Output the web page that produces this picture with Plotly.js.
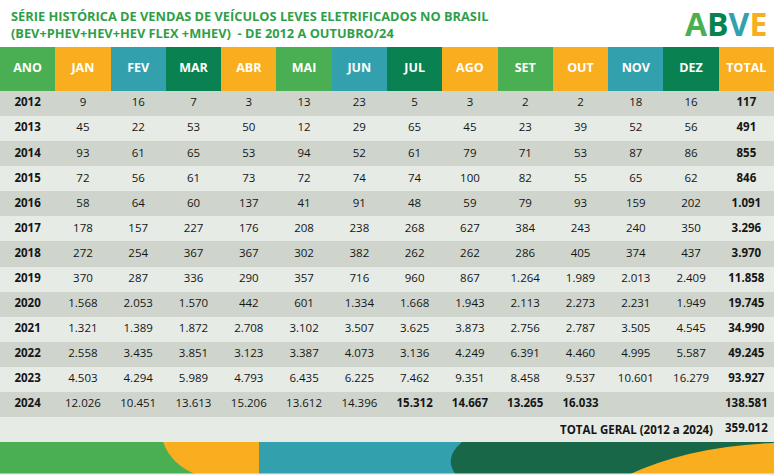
<!DOCTYPE html>
<html>
<head>
<meta charset="utf-8">
<script src="https://cdn.plot.ly/plotly-3.0.1.min.js"></script>
<style>html,body{margin:0;padding:0;background:#fff;}#chart{width:774px;height:475px;}</style>
</head>
<body>
<div id="chart"></div>
<script>
// ---- data ----
const years = [2012,2013,2014,2015,2016,2017,2018,2019,2020,2021,2022,2023,2024];
const monthLabels = ['JAN','FEV','MAR','ABR','MAI','JUN','JUL','AGO','SET','OUT','NOV','DEZ'];
const jan = [9,45,93,72,58,178,272,370,1568,1321,2558,4503,12026];
const fev = [16,22,61,56,64,157,254,287,2053,1389,3435,4294,10451];
const mar = [7,53,65,61,60,227,367,336,1570,1872,3851,5989,13613];
const abr = [3,50,53,73,137,176,367,290,442,2708,3123,4793,15206];
const mai = [13,12,94,72,41,208,302,357,601,3102,3387,6435,13612];
const jun = [23,29,52,74,91,238,382,716,1334,3507,4073,6225,14396];
const jul = [5,65,61,74,48,268,262,960,1668,3625,3136,7462,15312];
const ago = [3,45,79,100,59,627,262,867,1943,3873,4249,9351,14667];
const set = [2,23,71,82,79,384,286,1264,2113,2756,6391,8458,13265];
const out = [2,39,53,55,93,243,405,1989,2273,2787,4460,9537,16033];
const nov = [18,52,87,65,159,240,374,2013,2231,3505,4995,10601,null];
const dez = [16,56,86,62,202,350,437,2409,1949,4545,5587,16279,null];
const totals = [117,491,855,846,1091,3296,3970,11858,19745,34990,49245,93927,138581];
const totalGeral = 359012;
const totalGeralLabel = 'TOTAL GERAL (2012 a 2024)';
const boldCells2024 = ['JUL','AGO','SET','OUT'];

// ---- helpers ----
const W = 774, H = 475;
function fmt(v){ if(v===null||v===undefined) return ''; return String(v).replace(/\B(?=(\d{3})+(?!\d))/g,'.'); }
const px = x => x / W;
const py = y => 1 - y / H;

const GREEN = '#4aae52', ORANGE = '#f9ae1f', TEAL = '#33a1ad', DGREEN = '#0a8150';
const ROW_DARK = '#cfd5cd', ROW_LIGHT = '#e6ebe6';
const FONT = 'Open Sans, sans-serif';

const colLabels = ['ANO'].concat(monthLabels).concat(['TOTAL']);
const headerColorIdx = [0,1,2,3,1,0,2,3,1,0,1,2,3,1]; // 0 green,1 orange,2 teal,3 dark green
const rowLabels = years.map(String).concat(['GERAL']);
const monthSeries = [jan,fev,mar,abr,mai,jun,jul,ago,set,out,nov,dez];

// header cells
const headerHeat = {
  type:'heatmap', x: colLabels, y: ['HDR'], z: [headerColorIdx],
  colorscale: [[0,GREEN],[1/3,ORANGE],[2/3,TEAL],[1,DGREEN]], zmin:0, zmax:3,
  showscale:false, hoverinfo:'skip', xaxis:'x', yaxis:'y2'
};
const headerText = {
  type:'scatter', mode:'text', x: colLabels, y: colLabels.map(() => 'HDR'),
  text: colLabels.map(s => '<b>' + s + '</b>'), textposition:'middle center',
  textfont:{family:FONT, size:12.5, color:'#ffffff'}, hoverinfo:'skip', xaxis:'x', yaxis:'y2'
};

// body cells
const bodyHeat = {
  type:'heatmap', x: colLabels, y: rowLabels,
  z: rowLabels.map((r,i) => colLabels.map(() => i % 2)),
  colorscale: [[0,ROW_DARK],[1,ROW_LIGHT]], zmin:0, zmax:1,
  showscale:false, hoverinfo:'skip', xaxis:'x', yaxis:'y'
};

const tx = [], ty = [], tt = [];
years.forEach((yr, ri) => {
  const rl = rowLabels[ri];
  tx.push('ANO'); ty.push(rl); tt.push('<b>' + yr + '</b>');
  monthSeries.forEach((arr, mi) => {
    const s = fmt(arr[ri]);
    if (!s) return;
    const bold = yr === 2024 && boldCells2024.includes(monthLabels[mi]);
    tx.push(monthLabels[mi]); ty.push(rl); tt.push(bold ? '<b>' + s + '</b>' : s);
  });
  tx.push('TOTAL'); ty.push(rl); tt.push('<b>' + fmt(totals[ri]) + '</b>');
});
tx.push('TOTAL'); ty.push('GERAL'); tt.push('<b>' + fmt(totalGeral) + '</b>');

const bodyText = {
  type:'scatter', mode:'text', x: tx, y: ty, text: tt, textposition:'middle center',
  textfont:{family:FONT, size:11.5, color:'#151515'}, hoverinfo:'skip', xaxis:'x', yaxis:'y'
};

// decorative bottom band
const shapes = [
  {type:'rect', xref:'paper', yref:'paper', x0:0, x1:px(262), y0:py(475), y1:py(442), fillcolor:GREEN, line:{width:0}, layer:'above'},
  {type:'path', xref:'paper', yref:'paper', layer:'above', line:{width:0}, fillcolor:ORANGE,
   path:`M ${px(163)} ${py(442)} Q ${px(172)} ${py(466)} ${px(198)} ${py(475)} L ${px(260)} ${py(475)} L ${px(260)} ${py(442)} Z`},
  {type:'rect', xref:'paper', yref:'paper', x0:px(259), x1:px(774), y0:py(475), y1:py(442), fillcolor:TEAL, line:{width:0}, layer:'above'},
  {type:'path', xref:'paper', yref:'paper', layer:'above', line:{width:0}, fillcolor:'#186748',
   path:`M ${px(462)} ${py(442)} Q ${px(443)} ${py(458)} ${px(456)} ${py(475)} L ${px(774)} ${py(475)} L ${px(774)} ${py(442)} Z`},
  {type:'path', xref:'paper', yref:'paper', layer:'above', line:{width:0}, fillcolor:ORANGE,
   path:`M ${px(628)} ${py(475)} Q ${px(690)} ${py(446)} ${px(774)} ${py(443)} L ${px(774)} ${py(475)} Z`},
  {type:'rect', xref:'paper', yref:'paper', x0:0, x1:1, y0:0, y1:py(473.5), fillcolor:'#eef1ee', line:{width:0}, layer:'above'}
];

const titleFont = {family: FONT, size: 12.8, color: '#2f9f47'};
const annotations = [
  {xref:'paper', yref:'paper', x:px(9), y:py(24.3), xanchor:'left', yanchor:'middle', align:'left', showarrow:false,
   text:'<b>SÉRIE HISTÓRICA DE VENDAS DE VEÍCULOS LEVES ELETRIFICADOS NO BRASIL<br>(BEV+PHEV+HEV+HEV FLEX +MHEV)\u00a0\u00a0- DE 2012 A OUTUBRO/24</b>',
   font:titleFont},
  {xref:'x', yref:'y', x:'DEZ', y:'GERAL', xanchor:'right', yanchor:'middle', xshift:24, showarrow:false,
   text:'<b>' + totalGeralLabel + '</b>', font:{family:FONT, size:11.5, color:'#151515'}},
  // logo
  {xref:'paper', yref:'paper', x:px(683), y:py(24), xanchor:'left', yanchor:'middle', showarrow:false,
   text:'<b><span style="color:'+GREEN+'">A</span><span style="color:'+DGREEN+'">B</span><span style="color:'+TEAL+'">V</span><span style="color:'+ORANGE+'">E</span></b>',
   font:{family:FONT, size:32, color:GREEN}}
];

const layout = {
  width: W, height: H,
  margin: {l:0, r:0, t:0, b:0},
  paper_bgcolor: '#ffffff', plot_bgcolor: '#ffffff',
  showlegend: false,
  xaxis: {type:'category', categoryorder:'array', categoryarray: colLabels, range:[-0.5, 13.5], visible:false, fixedrange:true, domain:[0,1]},
  yaxis: {type:'category', categoryorder:'array', categoryarray: rowLabels, range:[13.5, -0.5], visible:false, fixedrange:true, domain:[py(442), py(91)]},
  yaxis2: {type:'category', range:[0.5, -0.5], visible:false, fixedrange:true, domain:[py(91), py(47)]},
  shapes: shapes,
  annotations: annotations
};

Plotly.newPlot('chart', [headerHeat, bodyHeat, headerText, bodyText], layout, {displayModeBar: false, staticPlot: true});
</script>
</body>
</html>
